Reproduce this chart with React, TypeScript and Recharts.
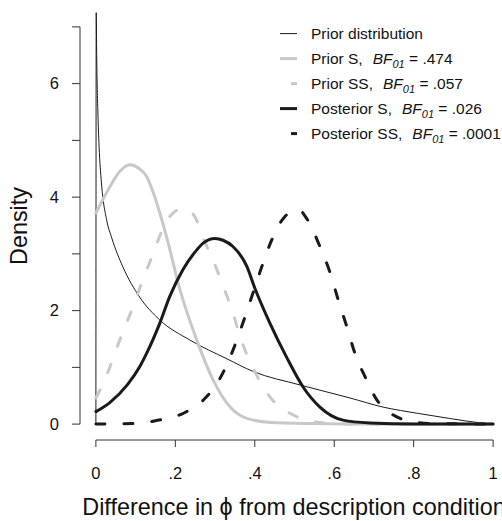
import { LineChart, Line, XAxis, YAxis, ReferenceLine, Legend } from 'recharts';

const FONT = '"Liberation Sans", Arial, Helvetica, sans-serif';

// values (x = difference in phi, y = density)
const priorX = [0, 0.0008, 0.002, 0.005, 0.008, 0.014, 0.027, 0.04, 0.068, 0.11, 0.16, 0.237, 0.33, 0.395, 0.514, 0.64, 0.723, 0.81, 0.89, 0.97, 1];
const priorY = [0, 7.25, 6.5, 5.5, 4.9, 4.25, 3.6, 3.28, 2.77, 2.24, 1.84, 1.48, 1.15, 0.93, 0.69, 0.46, 0.3, 0.19, 0.1, 0.02, 0];

const priorSX = [0, 0.035, 0.06, 0.085, 0.11, 0.128, 0.145, 0.166, 0.178, 0.212, 0.254, 0.295, 0.338, 0.38, 0.44, 0.55, 0.7, 1];
const priorSY = [3.72, 4.18, 4.45, 4.57, 4.5, 4.36, 4.07, 3.6, 3.3, 2.36, 1.48, 0.78, 0.3, 0.1, 0.03, 0.01, 0, 0];

const priorSSX = [0, 0.01, 0.035, 0.06, 0.093, 0.118, 0.144, 0.166, 0.194, 0.22, 0.245, 0.275, 0.3, 0.325, 0.345, 0.363, 0.395, 0.438, 0.489, 0.53, 0.6, 0.7, 1];
const priorSSY = [0.46, 0.6, 1.0, 1.48, 2.06, 2.54, 3.0, 3.4, 3.72, 3.8, 3.7, 3.2, 2.8, 2.35, 1.96, 1.54, 1.0, 0.48, 0.19, 0.07, 0.01, 0, 0];

const postSX = [0, 0.035, 0.08, 0.111, 0.128, 0.161, 0.186, 0.219, 0.254, 0.27, 0.3, 0.32, 0.345, 0.38, 0.4, 0.438, 0.48, 0.522, 0.564, 0.622, 0.69, 0.8, 1];
const postSY = [0.22, 0.38, 0.7, 1.02, 1.25, 1.78, 2.25, 2.72, 3.07, 3.19, 3.27, 3.24, 3.13, 2.78, 2.4, 1.78, 1.18, 0.65, 0.3, 0.07, 0.02, 0, 0];

const postSSX = [0, 0.1, 0.15, 0.22, 0.27, 0.312, 0.345, 0.37, 0.395, 0.418, 0.443, 0.476, 0.493, 0.51, 0.53, 0.564, 0.59, 0.61, 0.632, 0.652, 0.68, 0.708, 0.723, 0.766, 0.8, 0.85, 1];
const postSSY = [0, 0.01, 0.06, 0.19, 0.42, 0.8, 1.3, 1.78, 2.3, 2.78, 3.25, 3.66, 3.74, 3.78, 3.63, 3.13, 2.66, 2.19, 1.71, 1.25, 0.8, 0.42, 0.3, 0.1, 0.04, 0.01, 0];

const xTicks = [0, 0.2, 0.4, 0.6, 0.8, 1];
const xTickLabels = ['0', '.2', '.4', '.6', '.8', '1'];
const yTicks = [0, 1, 2, 3, 4, 5, 6, 7];
const yTickLabels = ['0', '', '2', '', '4', '', '6', ''];

const legendNames = ['Prior distribution', 'Prior S,', 'Prior SS,', 'Posterior S,', 'Posterior SS,'];
const legendBF = ['', '.474', '.057', '.026', '.0001'];

const toPoints = (xs: number[], ys: number[]) => xs.map((x, i) => ({ x, y: ys[i] }));

const GRAY = '#c8c8c8';
const BLACK = '#1a1a1a';

const series = [
  { key: 'prior', data: toPoints(priorX, priorY), color: BLACK, width: 1, dash: undefined },
  { key: 'priorS', data: toPoints(priorSX, priorSY), color: GRAY, width: 3, dash: undefined },
  { key: 'priorSS', data: toPoints(priorSSX, priorSSY), color: GRAY, width: 3, dash: '9 19' },
  { key: 'postS', data: toPoints(postSX, postSY), color: BLACK, width: 3, dash: undefined },
  { key: 'postSS', data: toPoints(postSSX, postSSY), color: BLACK, width: 3, dash: '9 19' },
];

function LegendBox() {
  return (
    <div style={{ fontFamily: FONT, fontSize: 15.5, color: '#111' }}>
      {series.map((s, i) => (
        <div key={s.key} style={{ position: 'relative', height: 25.2, whiteSpace: 'pre' }}>
          <svg width={31} height={25.2} style={{ position: 'absolute', left: 0, top: 0 }}>
            <line x1={s.dash ? 11 : 0} x2={17} y1={12.6} y2={12.6} stroke={s.color} strokeWidth={s.width} />
          </svg>
          <span style={{ position: 'absolute', left: 31, top: 0, lineHeight: '25.2px' }}>
            {legendNames[i]}
            {legendBF[i] && (
              <>
                <i style={{ marginLeft: 10 }}>BF</i>
                <span style={{ fontSize: 11, fontStyle: 'italic', position: 'relative', top: 4 }}>01</span>
                {' = ' + legendBF[i]}
              </>
            )}
          </span>
        </div>
      ))}
    </div>
  );
}

export default function App() {
  return (
    <div style={{ position: 'absolute', left: 0, top: 0, width: 502, height: 521, overflow: 'hidden', background: '#fff' }}>
      <LineChart width={520} height={521} margin={{ top: 11, right: 11, bottom: 41, left: 20 }}>
        <XAxis
          type="number"
          dataKey="x"
          domain={[-0.04, 1.04]}
          allowDataOverflow
          ticks={xTicks}
          interval={0}
          tickFormatter={(v: number) => xTickLabels[xTicks.indexOf(v)] ?? ''}
          axisLine={false}
          tickLine={{ stroke: '#333' }}
          tickSize={7}
          tickMargin={20}
          height={40}
          tick={{ fill: '#111', fontSize: 16.5, fontFamily: FONT }}
        />
        <YAxis
          type="number"
          domain={[-0.28, 7.28]}
          allowDataOverflow
          ticks={yTicks}
          interval={0}
          tickFormatter={(v: number) => yTickLabels[yTicks.indexOf(v)] ?? ''}
          axisLine={false}
          tickLine={{ stroke: '#333' }}
          tickSize={8}
          tickMargin={13}
          width={60}
          tick={{ fill: '#111', fontSize: 16.5, fontFamily: FONT }}
        />
        <ReferenceLine segment={[{ x: -0.04, y: 0 }, { x: -0.04, y: 7 }]} stroke="#333" strokeWidth={1} ifOverflow="visible" />
        <ReferenceLine segment={[{ x: 0, y: -0.28 }, { x: 1, y: -0.28 }]} stroke="#333" strokeWidth={1} ifOverflow="visible" />
        {series.map((s) => (
          <Line
            key={s.key}
            data={s.data}
            dataKey="y"
            type="monotone"
            dot={false}
            activeDot={false}
            stroke={s.color}
            strokeWidth={s.width}
            strokeDasharray={s.dash}
            strokeLinecap="round"
            isAnimationActive={false}
          />
        ))}
        <Legend
          layout="vertical"
          align="center"
          verticalAlign="middle"
          wrapperStyle={{ left: 280, top: 20.7, width: 240 }}
          content={() => <LegendBox />}
        />
        <text x={294} y={515} textAnchor="middle" fontFamily={FONT} fontSize={23.4} fill="#111">
          Difference in ϕ from description condition
        </text>
        <text x={27} y={226} textAnchor="middle" fontFamily={FONT} fontSize={23.4} fill="#111" transform="rotate(-90 27 226)">
          Density
        </text>
      </LineChart>
    </div>
  );
}
